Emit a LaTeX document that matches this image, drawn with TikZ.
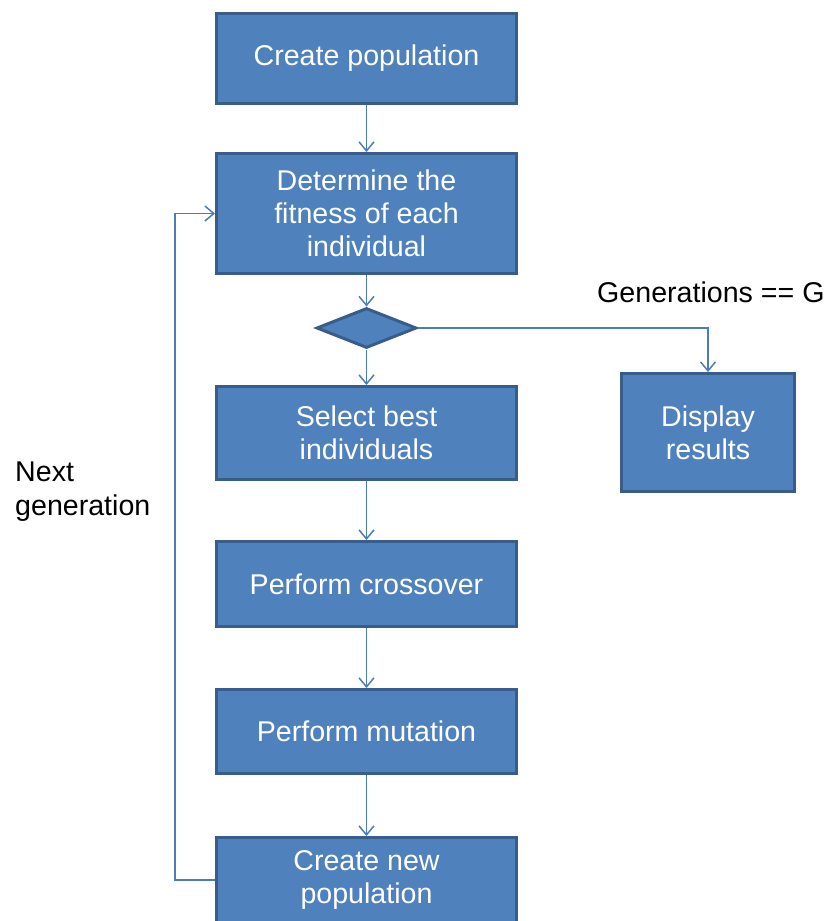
\documentclass[tikz,border=0pt]{standalone}
\usepackage{fontspec}
\setmainfont{Liberation Sans}
\usetikzlibrary{arrows.meta,shapes.geometric}
\definecolor{boxfill}{HTML}{4F81BD}
\definecolor{boxline}{HTML}{385D8A}
\definecolor{conn}{HTML}{4A7EBB}
\begin{document}
\begin{tikzpicture}[x=1pt,y=-1pt,
  box/.style={rectangle,draw=boxline,fill=boxfill,line width=3pt,text=white,
    align=center,inner sep=0pt,font=\fontsize{28.6}{33}\selectfont},
  dec/.style={diamond,draw=boxline,fill=boxfill,line width=3pt,inner sep=0pt,
    minimum width=100pt,minimum height=40pt,aspect=2.4},
  conn/.style={draw=conn,line width=1.5pt,
    -{Straight Barb[length=9pt,width=15pt,line width=1.5pt]}},
  lab/.style={inner sep=0pt,align=left,font=\fontsize{28.6}{34}\selectfont}]
\useasboundingbox (0,0) rectangle (829,921);
\clip (0,0) rectangle (829,921);
\node[box,minimum width=300pt,minimum height=90pt] (cp) at (366.5,58.5) {Create population};
\node[box,minimum width=300pt,minimum height=120pt] (fit) at (366.5,213.5) {Determine the\\fitness of each\\individual};
\node[dec] (d) at (366.5,328) {};
\node[box,minimum width=300pt,minimum height=93pt] (sel) at (366.5,433) {Select best\\individuals};
\node[box,minimum width=173pt,minimum height=118pt] (disp) at (708,432.5) {Display\\results};
\node[box,minimum width=300pt,minimum height=85pt] (cross) at (366.5,584) {Perform crossover};
\node[box,minimum width=300pt,minimum height=84pt] (mut) at (366.5,731.5) {Perform mutation};
\node[box,minimum width=300pt,minimum height=85pt] (newp) at (366.5,880) {Create new\\population};
\node[lab,anchor=west] (gl) at (597,292) {Generations == G};
\node[lab,anchor=west] (ng) at (15,492) {Next\\generation};
\coordinate (lp) at (175,880);
\draw[conn] (cp.south) -- (fit.north);
\draw[conn] (fit.south) -- (d.north);
\draw[conn] (d.south) -- (sel.north);
\draw[conn] (d.east) -| (disp.north);
\draw[conn] (sel.south) -- (cross.north);
\draw[conn] (cross.south) -- (mut.north);
\draw[conn] (mut.south) -- (newp.north);
\draw[conn] (newp.west) -- (lp) |- (fit.west);
\end{tikzpicture}
\end{document}
